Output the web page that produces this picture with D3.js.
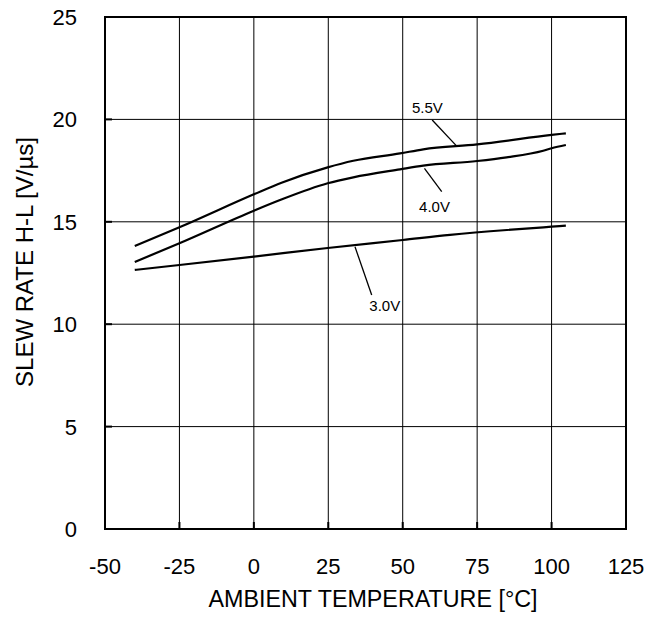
<!DOCTYPE html>
<html><head><meta charset="utf-8">
<script src="https://cdn.jsdelivr.net/npm/d3@7"></script>
<style>body{margin:0;background:#fff}svg{display:block;font-family:Arial,"Liberation Sans",sans-serif}</style>
</head><body><svg id="c" width="653" height="617"></svg>
<script>
const xTicks = [-50,-25,0,25,50,75,100,125];
const yTicks = [0,5,10,15,20,25];
const t55 = [-40,-25,0,9.3,24.8,33.4,49.1,56.9,75,100,104.8];
const v55 = [13.82,14.73,16.34,16.91,17.66,17.98,18.34,18.54,18.78,19.24,19.32];
const t40 = [-40,-25,0,8.8,24.8,33.4,49.1,56.9,75,84.9,97.2,100,104.8];
const v40 = [13.04,13.95,15.54,16.06,16.88,17.17,17.56,17.74,17.97,18.15,18.47,18.59,18.75];
const t30 = [-40,-25,0,24.8,50,65.9,85,100,104.8];
const v30 = [12.65,12.89,13.30,13.72,14.11,14.36,14.6,14.76,14.81];
const seriesNames = ["5.5V","4.0V","3.0V"];
// leader lines: [x1,y1,x2,y2] in data units, label anchor [x,y]
const leaders = [[59.9,19.97,68.3,18.67],[57.3,17.61,63.1,16.47],[33.97,13.78,39.58,11.43]];
const labelPos = [[53.1,20.31],[55.5,15.47],[38.8,10.64]];

const svg = d3.select("#c");
const L=105,R=626,T=17,B=529;
const x = d3.scaleLinear().domain([-50,125]).range([L,R]);
const y = d3.scaleLinear().domain([0,25]).range([B,T]);

// grid
svg.append("g").selectAll("line").data(xTicks.slice(1,-1)).join("line")
  .attr("x1",d=>x(d)).attr("x2",d=>x(d)).attr("y1",T).attr("y2",B)
  .attr("stroke","#000").attr("stroke-width",1);
svg.append("g").selectAll("line").data(yTicks.slice(1,-1)).join("line")
  .attr("y1",d=>y(d)).attr("y2",d=>y(d)).attr("x1",L).attr("x2",R)
  .attr("stroke","#000").attr("stroke-width",1);
// inner ticks
svg.append("g").selectAll("line").data(xTicks).join("line")
  .attr("x1",d=>x(d)).attr("x2",d=>x(d)).attr("y1",B).attr("y2",B-7)
  .attr("stroke","#000").attr("stroke-width",2);
svg.append("g").selectAll("line").data(yTicks).join("line")
  .attr("y1",d=>y(d)).attr("y2",d=>y(d)).attr("x1",L).attr("x2",L+7)
  .attr("stroke","#000").attr("stroke-width",2);
// frame
svg.append("rect").attr("x",L).attr("y",T).attr("width",R-L).attr("height",B-T)
  .attr("fill","none").attr("stroke","#000").attr("stroke-width",2);

// axes labels
svg.append("g").selectAll("text").data(xTicks).join("text")
  .attr("x",d=>x(d)).attr("y",B+45).attr("text-anchor","middle")
  .attr("font-size",22).text(d=>d);
svg.append("g").selectAll("text").data(yTicks).join("text")
  .attr("x",L-28).attr("y",d=>y(d)+8).attr("text-anchor","end")
  .attr("font-size",22).text(d=>d);
svg.append("text").attr("x",373).attr("y",607).attr("text-anchor","middle")
  .attr("font-size",23.3).text("AMBIENT TEMPERATURE [°C]");
svg.append("text").attr("transform","translate(33,262) rotate(-90)").attr("text-anchor","middle")
  .attr("font-size",24).text("SLEW RATE H-L [V/µs]");

// curves
const line = d3.line().x(d=>x(d[0])).y(d=>y(d[1])).curve(d3.curveMonotoneX);
const series = [d3.zip(t55,v55), d3.zip(t40,v40), d3.zip(t30,v30)];
svg.append("g").selectAll("path").data(series).join("path")
  .attr("d",line).attr("fill","none").attr("stroke","#000").attr("stroke-width",2.2);

// leaders
svg.append("g").selectAll("line").data(leaders).join("line")
  .attr("x1",d=>x(d[0])).attr("y1",d=>y(d[1])).attr("x2",d=>x(d[2])).attr("y2",d=>y(d[3]))
  .attr("stroke","#000").attr("stroke-width",1.3);
svg.append("g").selectAll("text").data(labelPos).join("text")
  .attr("x",d=>x(d[0])).attr("y",d=>y(d[1])).attr("font-size",15)
  .text((d,i)=>seriesNames[i]);
</script></body></html>
